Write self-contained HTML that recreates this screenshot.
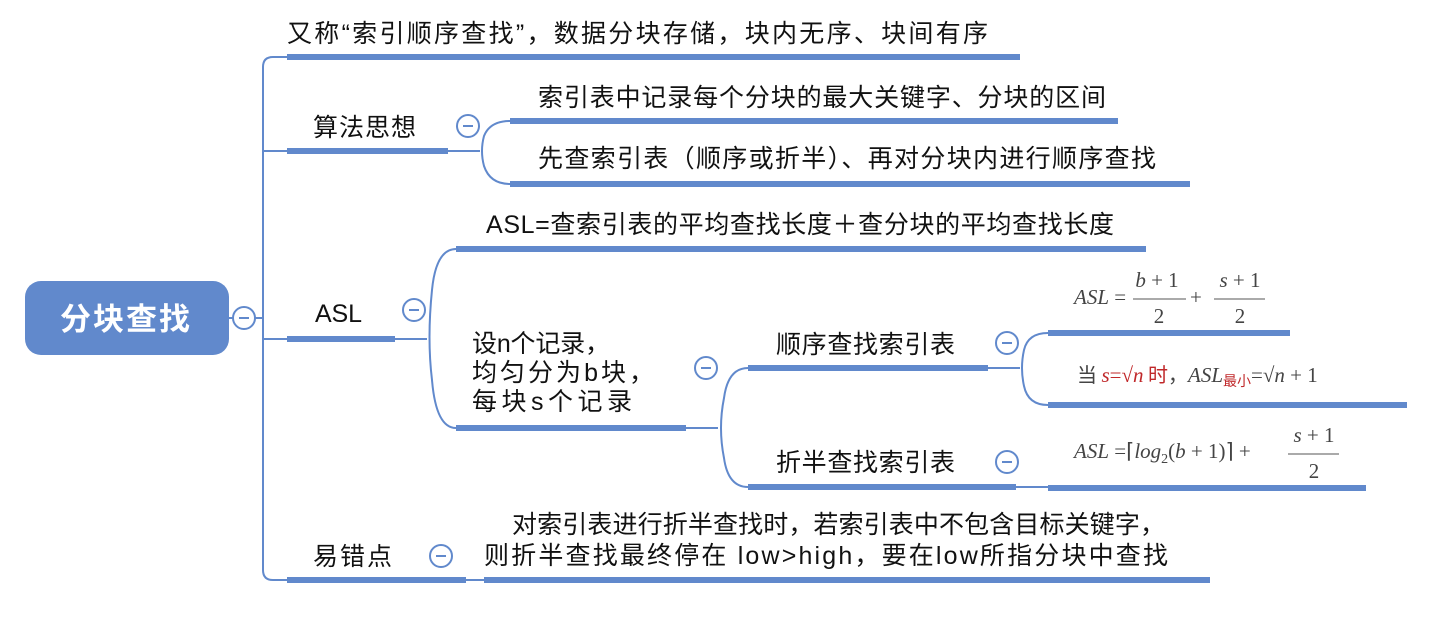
<!DOCTYPE html>
<html><head><meta charset="utf-8"><style>
html,body{margin:0;padding:0;background:#fff;width:1442px;height:621px;overflow:hidden}
svg{display:block}
.t{font-family:"Liberation Sans","Noto Sans CJK SC",sans-serif;font-size:25px;fill:#111}
.mn{font-family:"Liberation Serif","Noto Serif CJK SC",serif;font-size:21px;fill:#444}
.i{font-style:italic}
</style></head><body>
<svg width="1442" height="621" viewBox="0 0 1442 621" xmlns="http://www.w3.org/2000/svg">
<g fill="none" stroke="#6189cc" stroke-width="2">
 <path d="M229 318 H263"/>
 <path d="M287 57 H273 Q263 57 263 67 V570 Q263 580 273 580 H287"/>
 <path d="M263 151 H287"/>
 <path d="M263 339 H287"/>
 <path d="M448 151 H480"/>
 <path d="M510 121 Q490 121 484 136 Q480 151 484 166 Q490 184 510 184"/>
 <path d="M395 339 H427"/>
 <path d="M456 249 Q436 249 432 290 Q427 339 432 380 Q436 428 456 428"/>
 <path d="M686 428 H718"/>
 <path d="M748 368 Q728 368 724 398 Q718 428 724 458 Q728 487 748 487"/>
 <path d="M988 368 H1020"/>
 <path d="M1048 333 Q1028 333 1024 350 Q1020 368 1024 386 Q1028 405 1048 405"/>
 <path d="M1016 487 H1048"/>
 <path d="M466 580 H484"/>
</g>
<g stroke="#6189cc" stroke-width="6" fill="none">
 <path d="M287 57 H1020"/>
 <path d="M287 151 H448"/>
 <path d="M510 121 H1118"/>
 <path d="M510 184 H1190"/>
 <path d="M287 339 H395"/>
 <path d="M456 249 H1146"/>
 <path d="M456 428 H686"/>
 <path d="M748 368 H988"/>
 <path d="M748 487 H1016"/>
 <path d="M1048 333 H1290"/>
 <path d="M1048 405 H1407"/>
 <path d="M1048 488 H1366"/>
 <path d="M287 580 H466"/>
 <path d="M484 580 H1210"/>
</g>
<rect x="25" y="281" width="204" height="74" rx="16" fill="#6189cc"/>
<text x="60" y="330" textLength="130" lengthAdjust="spacing" font-family="Liberation Sans,Noto Sans CJK SC,sans-serif" font-size="31" font-weight="bold" fill="#fff">分块查找</text>
<g fill="#fff" stroke="#6189cc" stroke-width="2">
 <circle cx="244" cy="318" r="11"/>
 <circle cx="468" cy="126" r="11"/>
 <circle cx="414" cy="310" r="11"/>
 <circle cx="706" cy="368" r="11"/>
 <circle cx="1007" cy="343" r="11"/>
 <circle cx="1007" cy="462" r="11"/>
 <circle cx="441" cy="556" r="11"/>
</g>
<g stroke="#6189cc" stroke-width="2">
 <path d="M239 318h10M463 126h10M409 310h10M701 368h10M1002 343h10M1002 462h10M436 556h10"/>
</g>
<text class="t" x="287" y="42" textLength="701" lengthAdjust="spacing">又称“索引顺序查找”，数据分块存储，块内无序、块间有序</text>
<text class="t" x="313" y="136" textLength="103" lengthAdjust="spacing">算法思想</text>
<text class="t" x="538" y="106" textLength="568" lengthAdjust="spacing">索引表中记录每个分块的最大关键字、分块的区间</text>
<text class="t" x="538" y="167" textLength="618" lengthAdjust="spacing">先查索引表（顺序或折半）、再对分块内进行顺序查找</text>
<text class="t" x="315" y="322" textLength="47" lengthAdjust="spacing">ASL</text>
<text class="t" x="486" y="233" textLength="628" lengthAdjust="spacing">ASL=查索引表的平均查找长度＋查分块的平均查找长度</text>
<text class="t" x="472" y="352" textLength="138" lengthAdjust="spacing">设n个记录，</text>
<text class="t" x="472" y="381" textLength="182" lengthAdjust="spacing">均匀分为b块，</text>
<text class="t" x="472" y="410" textLength="160" lengthAdjust="spacing">每块s个记录</text>
<text class="t" x="776" y="353" textLength="179" lengthAdjust="spacing">顺序查找索引表</text>
<text class="t" x="776" y="471" textLength="179" lengthAdjust="spacing">折半查找索引表</text>
<text class="t" x="313" y="565" textLength="79" lengthAdjust="spacing">易错点</text>
<text class="t" x="512" y="533" textLength="653" lengthAdjust="spacing">对索引表进行折半查找时，若索引表中不包含目标关键字，</text>
<text class="t" x="484" y="564" textLength="684" lengthAdjust="spacing">则折半查找最终停在 low&gt;high，要在low所指分块中查找</text>
<!-- formulas -->
<text class="mn" x="1074" y="304"><tspan class="i">ASL</tspan> =</text>
<text class="mn" x="1157" y="287" text-anchor="middle"><tspan class="i">b</tspan> + 1</text>
<line x1="1133" y1="299" x2="1186" y2="299" stroke="#555" stroke-width="1"/>
<text class="mn" x="1159" y="323" text-anchor="middle">2</text>
<text class="mn" x="1190" y="304">+</text>
<text class="mn" x="1240" y="287" text-anchor="middle"><tspan class="i">s</tspan> + 1</text>
<line x1="1214" y1="299" x2="1265" y2="299" stroke="#555" stroke-width="1"/>
<text class="mn" x="1240" y="323" text-anchor="middle">2</text>

<text class="mn" x="1077" y="382" font-size="22"><tspan font-family="Noto Sans CJK SC,sans-serif" font-size="20">当 </tspan><tspan fill="#c0282a" class="i">s</tspan><tspan fill="#c0282a">=√</tspan><tspan fill="#c0282a" class="i">n</tspan><tspan fill="#c0282a" font-family="Noto Sans CJK SC,sans-serif" font-size="20"> 时</tspan><tspan font-family="Noto Sans CJK SC,sans-serif" font-size="20">，</tspan><tspan class="i">ASL</tspan><tspan fill="#c0282a" font-family="Noto Sans CJK SC,sans-serif" font-size="14" dy="4">最小</tspan><tspan dy="-4">=√</tspan><tspan class="i">n</tspan><tspan> + 1</tspan></text>

<text class="mn" x="1074" y="458"><tspan class="i">ASL</tspan> =⌈<tspan class="i">log</tspan><tspan font-size="14" dy="5">2</tspan><tspan dy="-5">(</tspan><tspan class="i">b</tspan> + 1)⌉ +</text>
<text class="mn" x="1314" y="442" text-anchor="middle"><tspan class="i">s</tspan> + 1</text>
<line x1="1288" y1="454" x2="1339" y2="454" stroke="#555" stroke-width="1"/>
<text class="mn" x="1314" y="478" text-anchor="middle">2</text>
</svg>
</body></html>
